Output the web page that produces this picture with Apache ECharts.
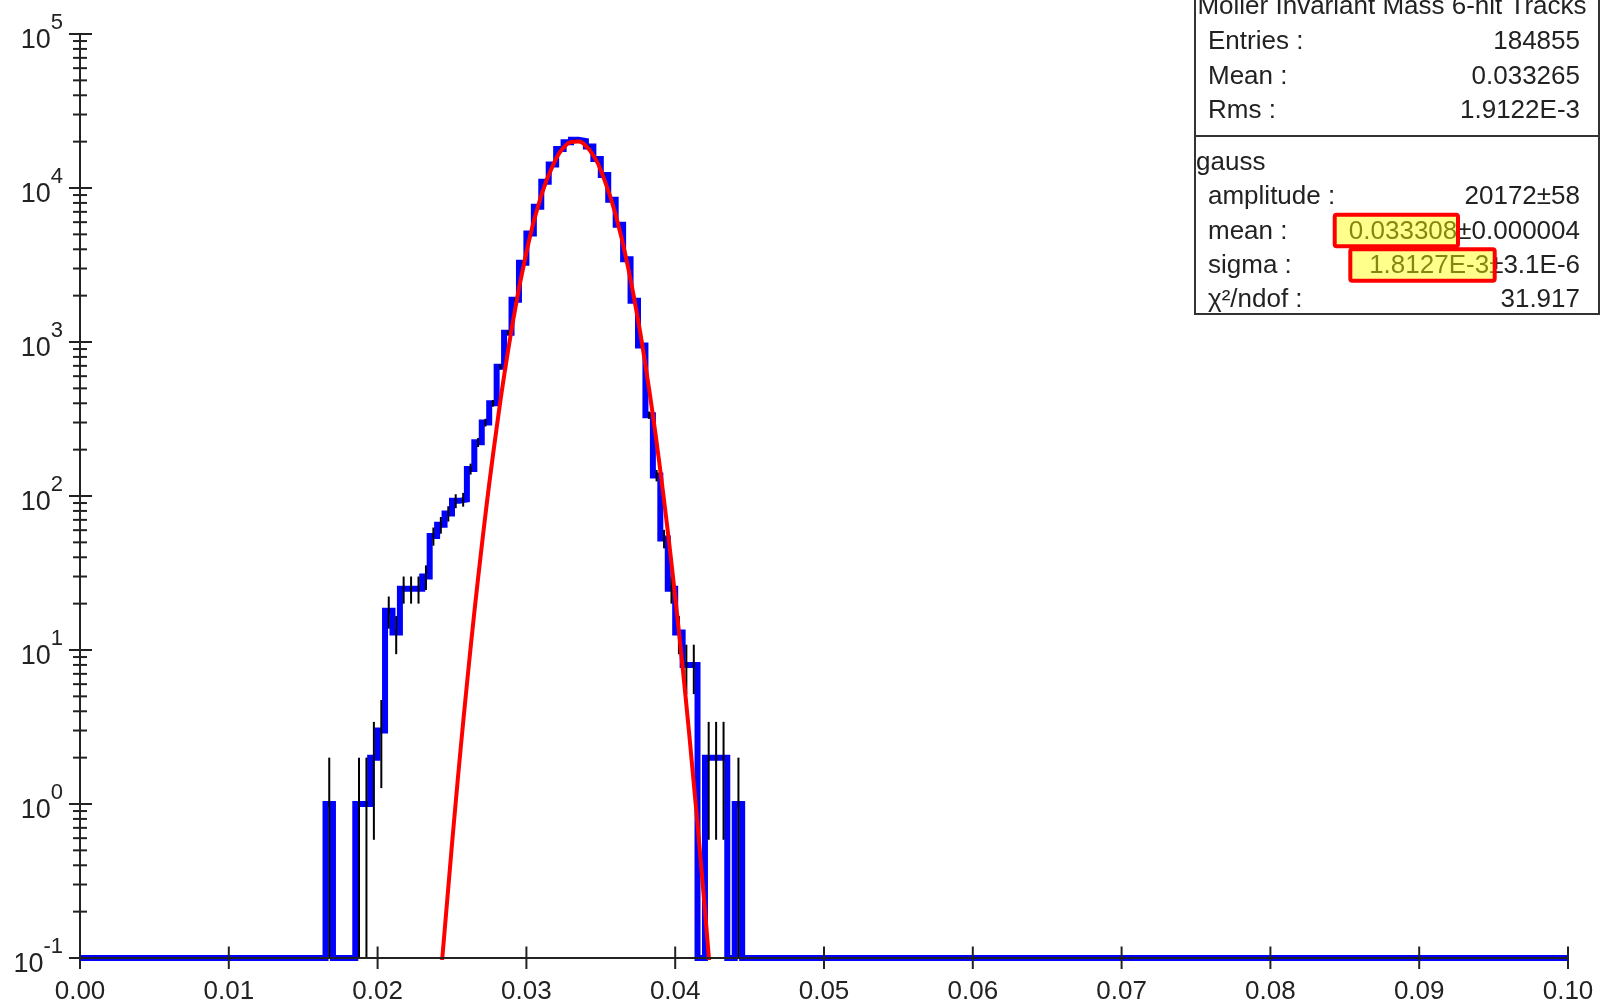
<!DOCTYPE html>
<html>
<head>
<meta charset="utf-8">
<title>Moller Invariant Mass 6-hit Tracks</title>
<script src="https://cdn.jsdelivr.net/npm/echarts@6/dist/echarts.min.js"></script>
<style>
  html, body { margin: 0; padding: 0; background: #fff; }
  #chart { width: 1606px; height: 1005px; }
</style>
</head>
<body>
<div id="chart"></div>
<script>
// histogram: 200 bins of 0.0005 over [0, 0.1]; only bins 33..88 hold entries
const binWidth = 0.0005;
const binCount = 200;
const firstFilledBin = 33;
const binCounts = [
  1, 0, 0, 0, 1, 1, 2, 3, 18, 13,
  25, 25, 25, 30, 55, 65, 77, 93, 95, 150,
  223, 300, 400, 690, 1150, 1880, 3270, 5060, 7550, 10970,
  14200, 17900, 19800, 20600, 20200, 18600, 15450, 12160, 8400, 5780,
  3450, 1850, 950, 335, 136, 53, 25, 13, 8, 8,
  0, 2, 2, 2, 0, 1
];

// red gauss fit line
const fitX = [0.0243, 0.025, 0.026, 0.027, 0.028, 0.029, 0.030, 0.031, 0.032, 0.0325,
  0.033, 0.0335, 0.034, 0.0345, 0.035, 0.036, 0.037, 0.038, 0.039, 0.040, 0.041, 0.042, 0.0423];
const fitY = [0.088, 0.55, 5.96, 47.3, 277, 1198, 3815, 8968, 15549, 18264,
  19883, 20059, 18754, 16250, 13049, 6698, 2536, 708, 146, 22.1, 2.48, 0.205, 0.091];

const xTickValues = [0, 0.01, 0.02, 0.03, 0.04, 0.05, 0.06, 0.07, 0.08, 0.09, 0.1];
const yDecades = [-1, 0, 1, 2, 3, 4, 5];
const yMinorSteps = [2, 3, 4, 5, 6, 7, 8, 9];

const statsTitle = 'Moller Invariant Mass 6-hit Tracks';
const statsRows = [['Entries :', '184855'], ['Mean :', '0.033265'], ['Rms :', '1.9122E-3']];
const fitName = 'gauss';
const fitRows = [['amplitude :', '20172±58'], ['mean :', '0.033308±0.000004'],
  ['sigma :', '1.8127E-3±3.1E-6'], ['χ²/ndof :', '31.917']];

const FONT = '"Liberation Sans", Arial, sans-serif';
const TEXT = '#222';
const yMin = 0.1;
const yMax = 1e5;

const histData = [];
const errData = [];
for (let i = 0; i < binCount; i++) {
  const j = i - firstFilledBin;
  const c = j >= 0 && j < binCounts.length ? binCounts[j] : 0;
  histData.push([i * binWidth, c > 0 ? c : yMin]);
  if (c > 0) errData.push([(i + 0.5) * binWidth, c]);
}
histData.push([binCount * binWidth, yMin]);

const yTicks = [];
yDecades.forEach((d) => {
  yTicks.push([0, Math.pow(10, d), 1]);
  if (d < 5) yMinorSteps.forEach((m) => yTicks.push([0, m * Math.pow(10, d), 0]));
});
const xTicks = xTickValues.map((v) => [v, yMin]);

const chart = echarts.init(document.getElementById('chart'));

const textEl = (text, x, y, align, z) => ({
  type: 'text', x, y, z: z || 12,
  style: {
    text, fill: TEXT, fontSize: 26, fontFamily: FONT,
    align, verticalAlign: 'middle', textAlign: align, textVerticalAlign: 'middle'
  }
});

const boxL = 1195, boxR = 1599;
const graphic = [
  { type: 'rect', z: 10, shape: { x: boxL, y: -20, width: boxR - boxL, height: 334 },
    style: { fill: '#fff', stroke: '#333', lineWidth: 2 } },
  { type: 'line', z: 11, shape: { x1: boxL, y1: 136, x2: boxR, y2: 136 },
    style: { stroke: '#333', lineWidth: 2 } },
  textEl(statsTitle, 1392, 7, 'center'),
  textEl(fitName, 1196, 163, 'left')
];
statsRows.forEach((r, i) => {
  graphic.push(textEl(r[0], 1208, 42 + i * 34.4, 'left'));
  graphic.push(textEl(r[1], 1580, 42 + i * 34.4, 'right'));
});
fitRows.forEach((r, i) => {
  graphic.push(textEl(r[0], 1208, 197 + i * 34.4, 'left'));
  graphic.push(textEl(r[1], 1580, 197 + i * 34.4, 'right'));
});
// highlight marks over the fitted mean and sigma
[[1334.7, 214.7, 123.3, 31.6], [1350.3, 249.3, 144.4, 31.4]].forEach((b) => {
  graphic.push({ type: 'rect', z: 13, shape: { x: b[0], y: b[1], width: b[2], height: b[3] },
    style: { fill: 'rgba(255,255,0,0.45)' } });
  graphic.push({ type: 'rect', z: 14, shape: { x: b[0], y: b[1], width: b[2], height: b[3], r: 2 },
    style: { fill: 'none', stroke: '#ff0000', lineWidth: 4 } });
});

chart.setOption({
  animation: false,
  backgroundColor: '#fff',
  grid: { left: 80, right: 38, top: 34, bottom: 47, outerBoundsMode: 'none' },
  xAxis: {
    type: 'value', min: 0, max: 0.1, interval: 0.01, z: 5,
    axisLine: { lineStyle: { color: TEXT, width: 2 } },
    axisTick: { show: false },
    splitLine: { show: false },
    axisLabel: {
      margin: 21, color: TEXT, fontSize: 26, fontFamily: FONT,
      formatter: (v) => v.toFixed(2)
    }
  },
  yAxis: {
    type: 'log', logBase: 10, min: yMin, max: yMax, splitNumber: 6, z: 5,
    axisLine: { lineStyle: { color: TEXT, width: 2 } },
    axisTick: { show: false },
    splitLine: { show: false },
    axisLabel: {
      margin: 17,
      formatter: (v) => '{b|10}{s|' + Math.round(Math.log10(v)) + '}',
      rich: {
        b: { fontSize: 27, fontFamily: FONT, color: TEXT, padding: [15, 0, 2, 0], verticalAlign: 'bottom' },
        s: { fontSize: 22, fontFamily: FONT, color: TEXT, padding: [0, 0, 22, 0], verticalAlign: 'top' }
      }
    }
  },
  series: [
    {
      name: 'histogram', type: 'line', step: 'end', data: histData,
      showSymbol: false, symbol: 'none', z: 2,
      lineStyle: { color: '#0000ff', width: 6, join: 'miter' }
    },
    {
      name: 'errors', type: 'custom', data: errData, z: 3,
      renderItem: (params, api) => {
        const x = api.value(0);
        const n = api.value(1);
        const s = Math.sqrt(n);
        const top = api.coord([x, n + s]);
        const bot = api.coord([x, Math.max(n - s, yMin)]);
        return { type: 'line', shape: { x1: top[0], y1: top[1], x2: bot[0], y2: bot[1] },
          style: { stroke: '#000', lineWidth: 2 } };
      }
    },
    {
      name: 'gauss', type: 'line', data: fitX.map((x, i) => [x, fitY[i]]),
      smooth: 0.5, showSymbol: false, symbol: 'none', z: 4,
      lineStyle: { color: '#ff0000', width: 4 }
    },
    {
      name: 'yTicks', type: 'custom', data: yTicks, clip: false, z: 6,
      renderItem: (params, api) => {
        const p = api.coord([api.value(0), api.value(1)]);
        const major = api.value(2) === 1;
        return { type: 'line',
          shape: { x1: p[0] - (major ? 11 : 7), y1: p[1], x2: p[0] + (major ? 12 : 7), y2: p[1] },
          style: { stroke: TEXT, lineWidth: 2 } };
      }
    },
    {
      name: 'xTicks', type: 'custom', data: xTicks, clip: false, z: 6,
      renderItem: (params, api) => {
        const p = api.coord([api.value(0), api.value(1)]);
        return { type: 'line', shape: { x1: p[0], y1: p[1] - 11.5, x2: p[0], y2: p[1] + 11 },
          style: { stroke: TEXT, lineWidth: 2 } };
      }
    }
  ],
  graphic
});
</script>
</body>
</html>
